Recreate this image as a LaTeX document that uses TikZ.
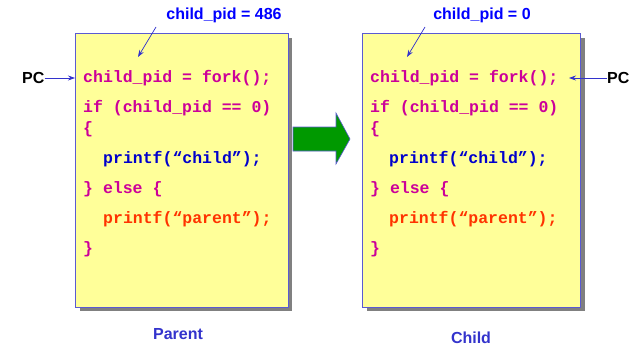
\documentclass[tikz,border=0pt]{standalone}
\usepackage{fontspec}
\setmainfont{Liberation Sans}
\newfontfamily\codefont{Liberation Mono}
\definecolor{boxyellow}{RGB}{255,255,153}
\definecolor{boxborder}{RGB}{90,90,210}
\definecolor{codemag}{RGB}{204,0,153}
\definecolor{codeblue}{RGB}{0,0,204}
\definecolor{codeorange}{RGB}{255,51,0}
\definecolor{lblblue}{RGB}{0,0,255}
\definecolor{capblue}{RGB}{51,51,204}
\definecolor{arrowgreen}{RGB}{0,153,0}
\tikzset{
  codebox/.style={draw=boxborder, line width=0.8pt, fill=boxyellow},
  shadowbox/.style={fill=black!50, draw=none},
  codeline/.style={anchor=base west, inner sep=0pt, font=\codefont\bfseries\fontsize{16.5}{18}\selectfont},
  pidlabel/.style={anchor=base, inner sep=0pt, text=lblblue, font=\bfseries\fontsize{16}{18}\selectfont},
  pclabel/.style={anchor=base west, inner sep=0pt, text=black, font=\bfseries\fontsize{16}{18}\selectfont},
  caption/.style={anchor=base, inner sep=0pt, text=capblue, font=\bfseries\fontsize{16}{18}\selectfont},
  pointer/.style={draw=capblue, line width=0.7pt, -{Stealth[length=7pt,width=5pt]}},
}
\usetikzlibrary{arrows.meta}
\begin{document}
\begin{tikzpicture}[x=1pt,y=-1pt]
\useasboundingbox (0,0) rectangle (639,345);
% parent box
\fill[shadowbox] (80,38) rectangle (292,311);
\path[codebox] (75,33) rectangle (288,307);
% child box
\fill[shadowbox] (367,38) rectangle (585,311);
\path[codebox] (362,33) rectangle (580,307);
% green arrow
\path[fill=arrowgreen, draw=boxborder, line width=0.6pt]
  (293,127) -- (336,127) -- (336,113) -- (350,139) -- (336,164) -- (336,151) -- (293,151) -- cycle;
% parent code
\node[codeline, text=codemag] (p1) at (83,82) {child\_pid = fork();};
\node[codeline, text=codemag] (p2) at (83,112) {if (child\_pid == 0)};
\node[codeline, text=codemag] (p3) at (83,133) {\{};
\node[codeline, text=codeblue] (p4) at (103,163) {printf(“child”);};
\node[codeline, text=codemag] (p5) at (83,193) {\} else \{};
\node[codeline, text=codeorange] (p6) at (103,223) {printf(“parent”);};
\node[codeline, text=codemag] (p7) at (83,253) {\}};
% child code
\node[codeline, text=codemag] (c1) at (370,82) {child\_pid = fork();};
\node[codeline, text=codemag] (c2) at (370,112) {if (child\_pid == 0)};
\node[codeline, text=codemag] (c3) at (370,133) {\{};
\node[codeline, text=codeblue] (c4) at (389,163) {printf(“child”);};
\node[codeline, text=codemag] (c5) at (370,193) {\} else \{};
\node[codeline, text=codeorange] (c6) at (389,223) {printf(“parent”);};
\node[codeline, text=codemag] (c7) at (370,253) {\}};
% labels
\node[pidlabel] (pl) at (224,20) {child\_pid = 486};
\node[pidlabel] (cl) at (482,20) {child\_pid = 0};
\coordinate (pls) at (156,27);
\coordinate (ple) at (138,57);
\coordinate (cls) at (425,27);
\coordinate (cle) at (407,57);
\draw[pointer] (pls) -- (ple);
\draw[pointer] (cls) -- (cle);
\node[pclabel] (ppc) at (22,83) {PC};
\node[pclabel] (cpc) at (607,83) {PC};
\coordinate (ppce) at (75,78);
\coordinate (cpce) at (569,78);
\draw[pointer] (ppc.east |- ppce) -- (ppce);
\draw[pointer] (cpc.west |- cpce) -- (cpce);
\node[caption] (pcap) at (178,339) {Parent};
\node[caption] (ccap) at (471,343) {Child};
\end{tikzpicture}
\end{document}
